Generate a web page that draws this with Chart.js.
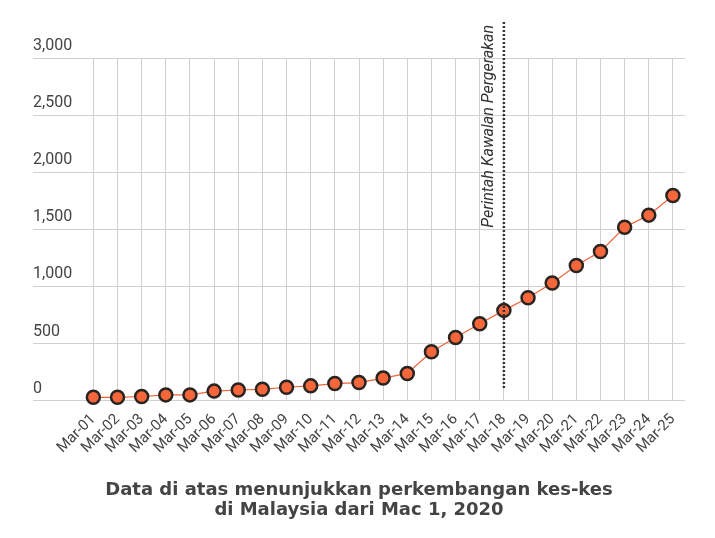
<!DOCTYPE html>
<html>
<head>
<meta charset="utf-8">
<script src="https://cdn.jsdelivr.net/npm/chart.js@4"></script>
<style>
  body { margin: 0; background: #fff; }
</style>
</head>
<body>
<canvas id="kesChart" width="715" height="538"></canvas>
<script>
var dates = ['Mar-01', 'Mar-02', 'Mar-03', 'Mar-04', 'Mar-05', 'Mar-06', 'Mar-07', 'Mar-08', 'Mar-09', 'Mar-10', 'Mar-11', 'Mar-12', 'Mar-13', 'Mar-14', 'Mar-15', 'Mar-16', 'Mar-17', 'Mar-18', 'Mar-19', 'Mar-20', 'Mar-21', 'Mar-22', 'Mar-23', 'Mar-24', 'Mar-25'];
var kes = [29, 29, 36, 50, 50, 83, 93, 99, 117, 129, 149, 158, 197, 238, 428, 553, 673, 790, 900, 1030, 1183, 1306, 1518, 1624, 1796];
var yTicks = [0, 500, 1000, 1500, 2000, 2500, 3000];
var mcoDate = 'Mar-18';
var mcoLabel = 'Perintah Kawalan Pergerakan';
var caption = ['Data di atas menunjukkan perkembangan kes-kes', 'di Malaysia dari Mac 1, 2020'];

Chart.defaults.font.family = 'Roboto';
Chart.defaults.color = '#444';

// dotted line + rotated label for the MCO start
var mcoLine = {
    id: 'mcoLine',
    afterDatasetsDraw: function (chart) {
        var ctx = chart.ctx;
        var x = chart.scales.x.getPixelForValue(dates.indexOf(mcoDate));
        ctx.save();
        ctx.strokeStyle = '#333';
        ctx.lineWidth = 2.5;
        ctx.setLineDash([2, 2]);
        ctx.beginPath();
        ctx.moveTo(x, 22);
        ctx.lineTo(x, 388);
        ctx.stroke();
        ctx.setLineDash([]);
        ctx.translate(x - 15, 25);
        ctx.rotate(-Math.PI / 2);
        ctx.font = 'italic 16px Roboto';
        ctx.fillStyle = '#333';
        ctx.textAlign = 'right';
        ctx.textBaseline = 'middle';
        ctx.fillText(mcoLabel, 0, 0);
        ctx.restore();
    }
};

var ctx = document.getElementById('kesChart');
var myChart = new Chart(ctx, {
    type: 'line',
    data: {
        datasets: [
            {
                label: 'Kes',
                data: kes.map(function (v, i) { return { x: i, y: v }; }),
                borderColor: '#f0633a',
                borderWidth: 1.2,
                pointRadius: 6.5,
                pointBackgroundColor: '#f5673b',
                pointBorderColor: '#2a2420',
                pointBorderWidth: 2.5,
                clip: false,
            },
        ]
    },
    options: {
        responsive: false,
        animation: false,
        layout: {
            padding: { top: 58, left: 33, right: 30, bottom: 17 },
        },
        plugins: {
            legend: { display: false },
            tooltip: { enabled: false },
            title: {
                display: true,
                position: 'bottom',
                text: caption,
                color: '#444',
                font: { family: 'DejaVu Sans', size: 18, weight: 'bold', lineHeight: 1.15 },
                padding: { top: 19, bottom: 0 },
            },
        },
        scales: {
            x: {
                type: 'linear',
                min: -2.5,
                max: 24.5,
                afterBuildTicks: function (axis) {
                    axis.ticks = dates.map(function (d, i) { return { value: i }; });
                },
                afterFit: function (axis) { axis.height = 60; },
                border: { display: false },
                grid: { color: '#d0d0d0', drawTicks: false },
                ticks: {
                    minRotation: 45,
                    maxRotation: 45,
                    padding: 10,
                    autoSkip: false,
                    font: { size: 15 },
                    callback: function (value) { return dates[value]; },
                },
            },
            y: {
                min: 0,
                max: 3000,
                afterBuildTicks: function (axis) {
                    axis.ticks = yTicks.map(function (v) { return { value: v }; });
                },
                afterFit: function (axis) { axis.width = 0; },
                border: { display: false },
                grid: { color: '#d0d0d0', drawTicks: false },
                ticks: {
                    mirror: true,
                    padding: 0,
                    labelOffset: -12,
                    font: { size: 16 },
                    callback: function (value) { return value.toLocaleString('en-US'); },
                },
            },
        },
    },
    plugins: [mcoLine],
});
</script>
</body>
</html>
